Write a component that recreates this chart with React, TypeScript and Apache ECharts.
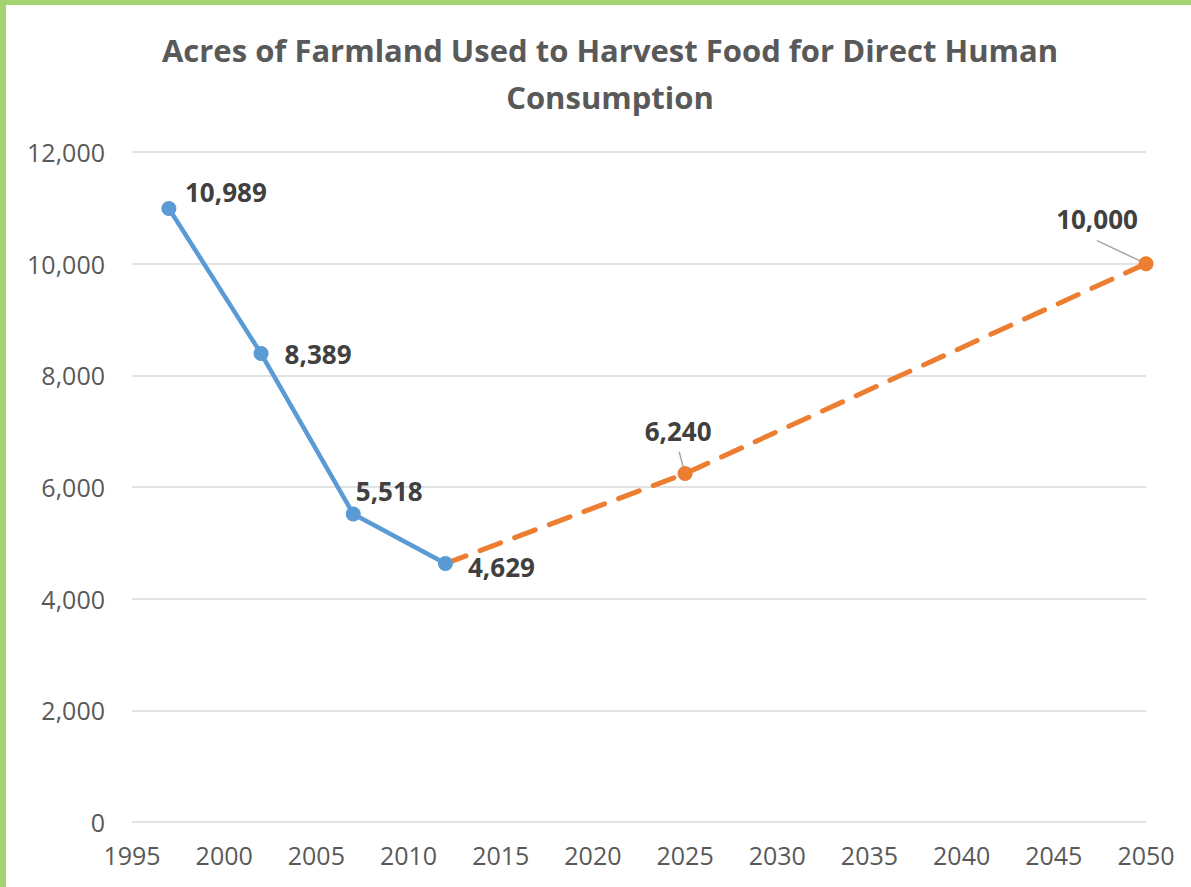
import React, { useEffect, useRef } from "react";
import * as echarts from "echarts";

const titleText = "Acres of Farmland Used to Harvest Food for Direct Human\nConsumption";
const actualYears = [1997, 2002, 2007, 2012];
const actualValues = [10989, 8389, 5518, 4629];
const projYears = [2012, 2025, 2050];
const projValues = [4629, 6240, 10000];

const fmt = (v: number) => v.toLocaleString("en-US");

export default function App() {
  const ref = useRef<HTMLDivElement>(null);
  useEffect(() => {
    if (!ref.current) return;
    const chart = echarts.init(ref.current, null, { renderer: "svg" });
    const font = "'Open Sans', 'Liberation Sans', sans-serif";
    const actualOffsets: number[][] = [[57, -16], [57, 0], [36, -23], [56, 3]];
    const projOffsets: number[][] = [[0, 0], [-7, -43], [-49, -45]];
    // leader line start, relative to the point
    const leaderStart: number[][] = [[0, 0], [-6, -22], [-49, -23]];
    const border = [
      { type: "rect", left: 0, top: 0, shape: { width: 6, height: 887 }, style: { fill: "#a5d46e" } },
      { type: "rect", left: 0, top: 0, shape: { width: 1191, height: 5 }, style: { fill: "#a5d46e" } },
    ];
    chart.setOption({
      animation: false,
      backgroundColor: "#ffffff",
      title: {
        text: titleText,
        left: 605,
        top: 21,
        textAlign: "center",
        textStyle: {
          fontFamily: font,
          fontWeight: "bold",
          fontSize: 31,
          color: "#595959",
          lineHeight: 47,
        },
      },
      graphic: border,
      grid: { left: 132, right: 45, top: 152, bottom: 65, containLabel: false },
      xAxis: {
        type: "value",
        min: 1995,
        max: 2050,
        interval: 5,
        axisLine: { show: false },
        axisTick: { show: false },
        splitLine: { show: false },
        axisLabel: {
          fontFamily: font,
          fontSize: 25,
          color: "#595959",
          margin: 20,
          formatter: (v: number) => String(v),
        },
      },
      yAxis: {
        type: "value",
        min: 0,
        max: 12000,
        interval: 2000,
        axisLine: { show: false },
        axisTick: { show: false },
        splitLine: { lineStyle: { color: "#d9d9d9", width: 1.5 } },
        axisLabel: {
          fontFamily: font,
          fontSize: 25,
          color: "#595959",
          margin: 27,
          formatter: (v: number) => fmt(v),
        },
      },
      series: [
        {
          type: "line",
          z: 3,
          data: actualYears.map((y, i) => ({
            value: [y, actualValues[i]],
            label: { offset: actualOffsets[i] },
          })),
          symbol: "circle",
          symbolSize: 15,
          itemStyle: { color: "#5b9bd5" },
          lineStyle: { color: "#5b9bd5", width: 4.5 },
          label: {
            show: true,
            position: "inside",
            fontFamily: font,
            fontWeight: "bold",
            fontSize: 26,
            color: "#404040",
            formatter: (p: any) => fmt(p.value[1]),
          },
        },
        {
          type: "line",
          z: 2,
          data: projYears.map((y, i) => ({
            value: [y, projValues[i]],
            symbol: i === 0 ? "none" : "circle",
            label: { show: i !== 0, offset: projOffsets[i] },
          })),
          symbol: "circle",
          symbolSize: 15,
          itemStyle: { color: "#ed7d31" },
          lineStyle: { color: "#ed7d31", width: 5, type: [22, 15], cap: "round" },
          label: {
            show: true,
            position: "inside",
            fontFamily: font,
            fontWeight: "bold",
            fontSize: 26,
            color: "#404040",
            formatter: (p: any) => fmt(p.value[1]),
          },
        },
      ],
    });
    const leaders: any[] = [];
    projYears.forEach((y, i) => {
      if (i === 0) return;
      const pt = chart.convertToPixel({ gridIndex: 0 }, [y, projValues[i]]) as number[];
      leaders.push({
        type: "line",
        z: 1,
        shape: {
          x1: pt[0] + leaderStart[i][0],
          y1: pt[1] + leaderStart[i][1],
          x2: pt[0],
          y2: pt[1],
        },
        style: { stroke: "#a6a6a6", lineWidth: 1.5 },
      });
    });
    chart.setOption({ graphic: [...border, ...leaders] });
    return () => chart.dispose();
  }, []);
  return (
    <div
      ref={ref}
      style={{ position: "fixed", left: 0, top: 0, width: 1191, height: 887 }}
    />
  );
}
